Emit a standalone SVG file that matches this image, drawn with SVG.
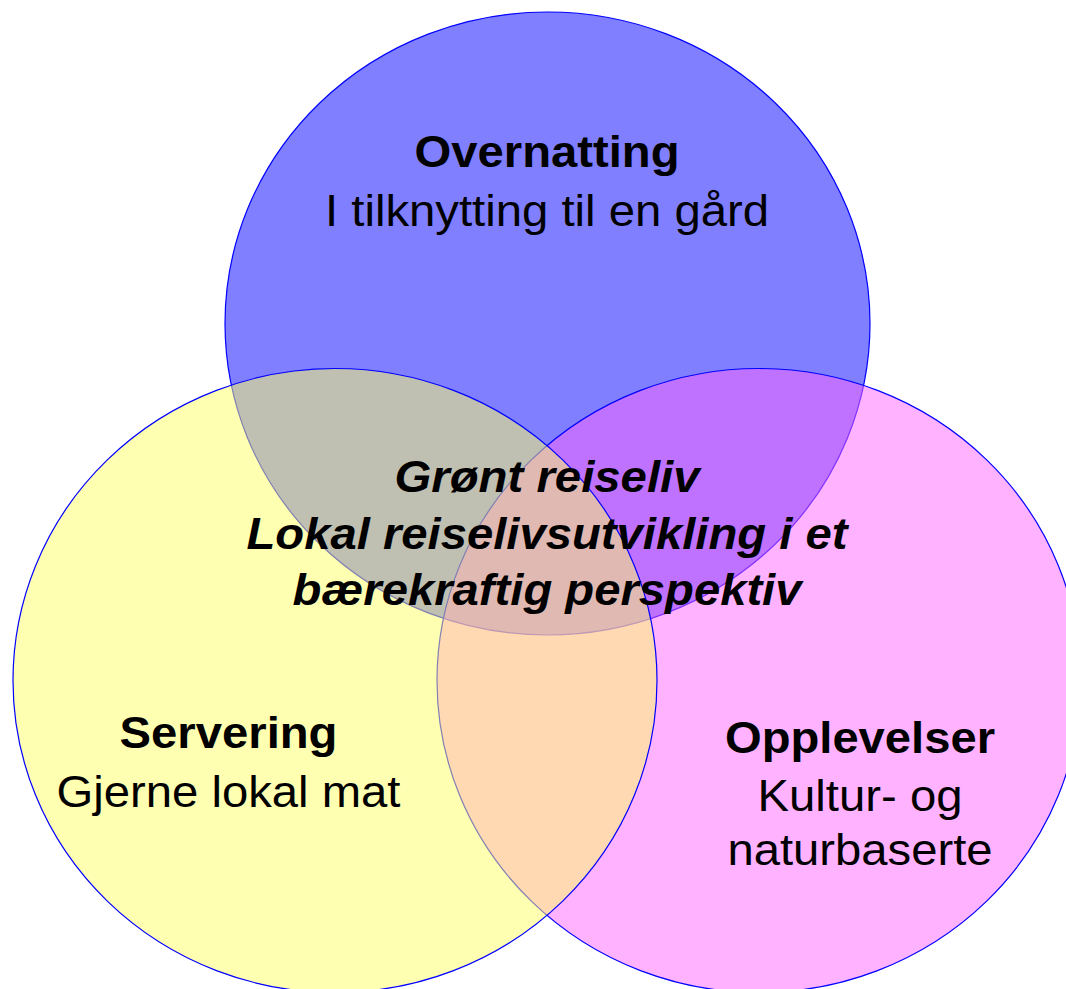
<svg xmlns="http://www.w3.org/2000/svg" width="1066" height="989" viewBox="0 0 1066 989">
<style>
.c{stroke:#0000FF;stroke-width:1.2;fill-opacity:0.5}
.t{font-family:"Liberation Sans",Arial,sans-serif;font-size:45px;fill:#000;text-anchor:middle}
.b{font-weight:bold}
.bi{font-weight:bold;font-style:italic}
</style>
<rect width="1066" height="989" fill="#FFFFFF"/>
<g id="overnatting">
<ellipse class="c" cx="547.5" cy="323.5" rx="322.5" ry="311.5" fill="#0000FF"/>
<text class="t b" x="547" y="167" textLength="265" lengthAdjust="spacingAndGlyphs">Overnatting</text>
<text class="t" x="547" y="226" textLength="444" lengthAdjust="spacingAndGlyphs">I tilknytting til en gård</text>
</g>
<g id="opplevelser">
<ellipse class="c" cx="759" cy="680.5" rx="322" ry="312" fill="#FF66FF"/>
<text class="t b" x="860" y="752.5" textLength="270" lengthAdjust="spacingAndGlyphs">Opplevelser</text>
<text class="t" x="860" y="811" textLength="205" lengthAdjust="spacingAndGlyphs">Kultur- og</text>
<text class="t" x="860" y="865" textLength="265" lengthAdjust="spacingAndGlyphs">naturbaserte</text>
</g>
<g id="servering">
<ellipse class="c" cx="335" cy="680.5" rx="322" ry="312" fill="#FFFF66"/>
<text class="t b" x="228.5" y="748" textLength="218" lengthAdjust="spacingAndGlyphs">Servering</text>
<text class="t" x="228.5" y="807" textLength="344" lengthAdjust="spacingAndGlyphs">Gjerne lokal mat</text>
</g>
<g id="gront-reiseliv">
<text class="t bi" x="547" y="492" textLength="305" lengthAdjust="spacingAndGlyphs">Grønt reiseliv</text>
<text class="t bi" x="547" y="549" textLength="601" lengthAdjust="spacingAndGlyphs">Lokal reiselivsutvikling i et</text>
<text class="t bi" x="547" y="605" textLength="509" lengthAdjust="spacingAndGlyphs">bærekraftig perspektiv</text>
</g>
<g id="connectors"/>
</svg>
